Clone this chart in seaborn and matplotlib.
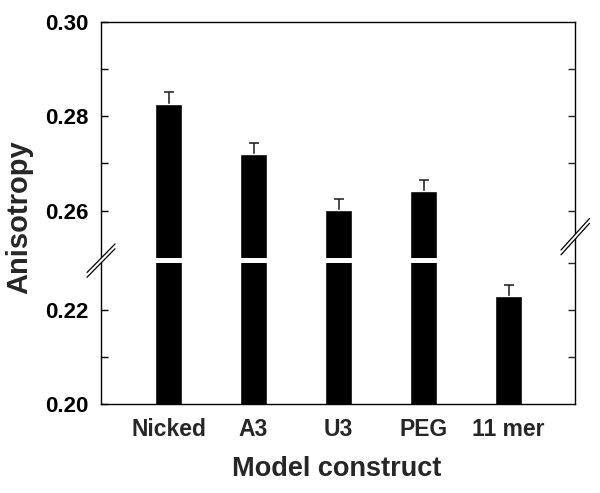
import numpy as np
import pandas as pd
import matplotlib
matplotlib.use("Agg")
import matplotlib.pyplot as plt
from matplotlib.lines import Line2D
from matplotlib.patches import Polygon
import seaborn as sns

# ---- data ----
constructs = ["Nicked", "A3", "U3", "PEG", "11 mer"]
anisotropy = [0.2827, 0.2719, 0.2601, 0.2642, 0.2230]
errors = [0.0024, 0.0024, 0.0024, 0.0023, 0.0023]
major_ticks = [0.20, 0.22, 0.26, 0.28, 0.30]
major_labels = ["0.20", "0.22", "0.26", "0.28", "0.30"]
minor_ticks = [0.21, 0.27, 0.29]
right_ticks = [0.21, 0.22, 0.23, 0.26, 0.27, 0.28, 0.29]

df = pd.DataFrame({"construct": constructs, "anisotropy": anisotropy})

# broken axis: collapse 0.23..0.25 into a small gap
B_LO, B_HI, GAP = 0.23, 0.25, 0.00106


def fwd(y):
    y = np.asarray(y, float)
    return np.where(y <= B_LO, y,
                    np.where(y >= B_HI, y - (B_HI - B_LO) + GAP,
                             B_LO + (y - B_LO) * GAP / (B_HI - B_LO)))


def inv(m):
    m = np.asarray(m, float)
    return np.where(m <= B_LO, m,
                    np.where(m >= B_LO + GAP, m + (B_HI - B_LO) - GAP,
                             B_LO + (m - B_LO) * (B_HI - B_LO) / GAP))


sns.set_style("ticks")
plt.rcParams["font.family"] = ["Liberation Sans", "DejaVu Sans"]
plt.rcParams["font.weight"] = "bold"
plt.rcParams["axes.axisbelow"] = False

W, H = 600, 493
fig = plt.figure(figsize=(6.0, 4.93), dpi=100)
ax = fig.add_axes([101 / W, 1 - 404 / H, 474 / W, 382 / H])
ax.set_yscale("function", functions=(fwd, inv))

sns.barplot(data=df, x="construct", y="anisotropy", color="black",
            saturation=1, width=0.32, errorbar=None, ax=ax, zorder=1)
xpos = np.arange(len(constructs))
eb = ax.errorbar(xpos, anisotropy, yerr=[np.zeros(len(errors)), errors],
                 fmt="none", ecolor="#1a1a1a", elinewidth=1.1, capsize=3.3,
                 capthick=1.1, zorder=0.5)
caplines = eb[1]
if len(caplines) == 2:
    caplines[0].set_visible(False)

ax.set_ylim(0.20, 0.30)
ax.set_xlim(-0.794, 4.78)
ax.axhspan(B_LO, B_HI, color="white", lw=0, zorder=2)

ax.set_yticks(major_ticks)
ax.set_yticklabels(major_labels)
ax.set_yticks(minor_ticks, minor=True)
ax.tick_params(axis="y", which="both", direction="in", length=5, width=1,
               pad=9.2, labelsize=16, colors="black")
ax.tick_params(axis="x", length=0, pad=10, labelsize=16.5)
for lab in ax.get_xticklabels() + ax.get_yticklabels():
    lab.set_fontweight("bold")

ax.set_xlabel("Model construct", fontsize=19.5, fontweight="bold")
ax.set_ylabel("Anisotropy", fontsize=21, fontweight="bold")
ax.xaxis.set_label_coords(0.497, -0.135)
ax.yaxis.set_label_coords(-0.143, 0.49)

for s in ax.spines.values():
    s.set_visible(True)
    s.set_linewidth(1.0)
    s.set_color("black")

ax2 = ax.twinx()
ax2.set_yscale("function", functions=(fwd, inv))
ax2.set_ylim(0.20, 0.30)
ax2.set_yticks(right_ticks)
ax2.set_yticklabels([])
ax2.tick_params(axis="y", direction="in", length=5, width=1)
for s in ax2.spines.values():
    s.set_visible(False)


def px(x, y):
    return (x / W, 1 - y / H)


def break_mark(x0, y0a, x1, y1a, sep):
    p1, p2 = px(x0, y0a), px(x1, y1a)
    p3, p4 = px(x1, y1a + sep), px(x0, y0a + sep)
    fig.add_artist(Polygon([p1, p2, p3, p4], closed=True, facecolor="white",
                           edgecolor="none", transform=fig.transFigure,
                           zorder=10))
    fig.add_artist(Line2D([p1[0], p2[0]], [p1[1], p2[1]], color="black",
                          lw=0.9, transform=fig.transFigure, zorder=11))
    fig.add_artist(Line2D([p4[0], p3[0]], [p4[1], p3[1]], color="black",
                          lw=0.9, transform=fig.transFigure, zorder=11))


break_mark(87, 272.5, 115, 244, 4.8)
break_mark(561, 250, 589.5, 218.5, 4.8)

fig.savefig("out.png", dpi=100, facecolor="white")
